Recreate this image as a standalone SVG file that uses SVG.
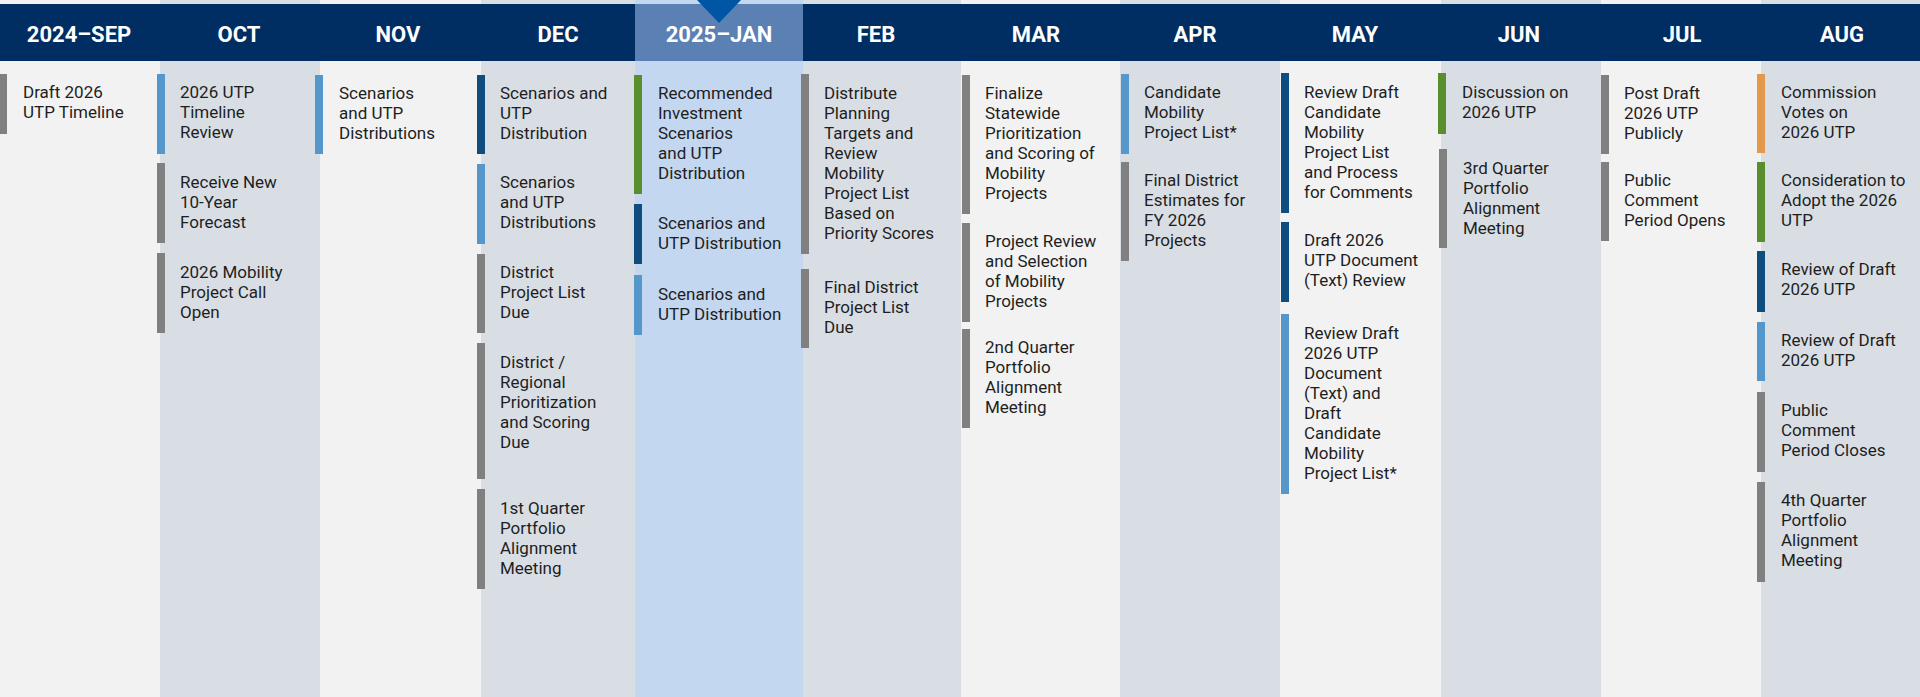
<svg xmlns="http://www.w3.org/2000/svg" width="1920" height="697" viewBox="0 0 1920 697">
<style>
.bgL{fill:#f2f2f2}.bgG{fill:#d9dee5}.bgJ{fill:#c4d7f0}
.hdr{fill:#002d62}.hdrJ{fill:#5a80b4}
.ht{font-family:Roboto,"Liberation Sans",sans-serif;font-weight:700;font-size:22px;fill:#ffffff;text-anchor:middle}
.t{font-family:Roboto,"Liberation Sans",sans-serif;font-size:17px;fill:#1e1e1e}
.gray{fill:#808080}.lb{fill:#5596cb}.db{fill:#0f4d7e}.gr{fill:#5a8d2c}.or{fill:#e3994b}
</style>
<g id="background">
<rect class="bgL" x="0" y="0" width="160" height="697"/>
<rect class="bgG" x="160" y="0" width="160" height="697"/>
<rect class="bgL" x="320" y="0" width="161" height="697"/>
<rect class="bgG" x="481" y="0" width="154" height="697"/>
<rect class="bgJ" x="635" y="0" width="168" height="697"/>
<rect class="bgG" x="803" y="0" width="158" height="697"/>
<rect class="bgL" x="961" y="0" width="159" height="697"/>
<rect class="bgG" x="1120" y="0" width="160" height="697"/>
<rect class="bgL" x="1280" y="0" width="161" height="697"/>
<rect class="bgG" x="1441" y="0" width="160" height="697"/>
<rect class="bgL" x="1601" y="0" width="160" height="697"/>
<rect class="bgG" x="1761" y="0" width="159" height="697"/>
</g>
<g id="header">
<rect class="hdr" x="0" y="4" width="1920" height="57"/>
<rect class="hdrJ" x="635" y="4" width="168" height="57"/>
<polygon points="697,0 741,0 719,23" fill="#0055a5"/>
<text class="ht" x="79" y="42">2024–SEP</text>
<text class="ht" x="239" y="42">OCT</text>
<text class="ht" x="398" y="42">NOV</text>
<text class="ht" x="558" y="42">DEC</text>
<text class="ht" x="719" y="42">2025–JAN</text>
<text class="ht" x="876" y="42">FEB</text>
<text class="ht" x="1036" y="42">MAR</text>
<text class="ht" x="1195" y="42">APR</text>
<text class="ht" x="1355" y="42">MAY</text>
<text class="ht" x="1519" y="42">JUN</text>
<text class="ht" x="1682" y="42">JUL</text>
<text class="ht" x="1842" y="42">AUG</text>
</g>
<g id="sep-1"><rect class="gray" x="0" y="74" width="7" height="60"/><text class="t" x="23" y="98"><tspan x="23">Draft 2026</tspan><tspan x="23" dy="20">UTP Timeline</tspan></text></g>
<g id="oct-1"><rect class="lb" x="157" y="74" width="8" height="80"/><text class="t" y="98"><tspan x="180">2026 UTP</tspan><tspan x="180" dy="20">Timeline</tspan><tspan x="180" dy="20">Review</tspan></text></g>
<g id="oct-2"><rect class="gray" x="157" y="163" width="8" height="80"/><text class="t" y="188"><tspan x="180">Receive New</tspan><tspan x="180" dy="20">10-Year</tspan><tspan x="180" dy="20">Forecast</tspan></text></g>
<g id="oct-3"><rect class="gray" x="157" y="253" width="8" height="80"/><text class="t" y="278"><tspan x="180">2026 Mobility</tspan><tspan x="180" dy="20">Project Call</tspan><tspan x="180" dy="20">Open</tspan></text></g>
<g id="nov-1"><rect class="lb" x="315" y="75" width="8" height="79"/><text class="t" y="99"><tspan x="339">Scenarios</tspan><tspan x="339" dy="20">and UTP</tspan><tspan x="339" dy="20">Distributions</tspan></text></g>
<g id="dec-1"><rect class="db" x="477" y="75" width="8" height="79"/><text class="t" y="99"><tspan x="500">Scenarios and</tspan><tspan x="500" dy="20">UTP</tspan><tspan x="500" dy="20">Distribution</tspan></text></g>
<g id="dec-2"><rect class="lb" x="477" y="164" width="8" height="80"/><text class="t" y="188"><tspan x="500">Scenarios</tspan><tspan x="500" dy="20">and UTP</tspan><tspan x="500" dy="20">Distributions</tspan></text></g>
<g id="dec-3"><rect class="gray" x="477" y="254" width="8" height="79"/><text class="t" y="278"><tspan x="500">District</tspan><tspan x="500" dy="20">Project List</tspan><tspan x="500" dy="20">Due</tspan></text></g>
<g id="dec-4"><rect class="gray" x="477" y="343" width="8" height="136"/><text class="t" y="368"><tspan x="500">District /</tspan><tspan x="500" dy="20">Regional</tspan><tspan x="500" dy="20">Prioritization</tspan><tspan x="500" dy="20">and Scoring</tspan><tspan x="500" dy="20">Due</tspan></text></g>
<g id="dec-5"><rect class="gray" x="477" y="489" width="8" height="100"/><text class="t" y="514"><tspan x="500">1st Quarter</tspan><tspan x="500" dy="20">Portfolio</tspan><tspan x="500" dy="20">Alignment</tspan><tspan x="500" dy="20">Meeting</tspan></text></g>
<g id="jan-1"><rect class="gr" x="634" y="75" width="8" height="119"/><text class="t" y="99"><tspan x="658">Recommended</tspan><tspan x="658" dy="20">Investment</tspan><tspan x="658" dy="20">Scenarios</tspan><tspan x="658" dy="20">and UTP</tspan><tspan x="658" dy="20">Distribution</tspan></text></g>
<g id="jan-2"><rect class="db" x="634" y="204" width="8" height="60"/><text class="t" y="229"><tspan x="658">Scenarios and</tspan><tspan x="658" dy="20">UTP Distribution</tspan></text></g>
<g id="jan-3"><rect class="lb" x="634" y="275" width="8" height="60"/><text class="t" y="300"><tspan x="658">Scenarios and</tspan><tspan x="658" dy="20">UTP Distribution</tspan></text></g>
<g id="feb-1"><rect class="gray" x="801" y="74" width="8" height="180"/><text class="t" y="99"><tspan x="824">Distribute</tspan><tspan x="824" dy="20">Planning</tspan><tspan x="824" dy="20">Targets and</tspan><tspan x="824" dy="20">Review</tspan><tspan x="824" dy="20">Mobility</tspan><tspan x="824" dy="20">Project List</tspan><tspan x="824" dy="20">Based on</tspan><tspan x="824" dy="20">Priority Scores</tspan></text></g>
<g id="feb-2"><rect class="gray" x="801" y="269" width="8" height="79"/><text class="t" y="293"><tspan x="824">Final District</tspan><tspan x="824" dy="20">Project List</tspan><tspan x="824" dy="20">Due</tspan></text></g>
<g id="mar-1"><rect class="gray" x="962" y="75" width="8" height="139"/><text class="t" y="99"><tspan x="985">Finalize</tspan><tspan x="985" dy="20">Statewide</tspan><tspan x="985" dy="20">Prioritization</tspan><tspan x="985" dy="20">and Scoring of</tspan><tspan x="985" dy="20">Mobility</tspan><tspan x="985" dy="20">Projects</tspan></text></g>
<g id="mar-2"><rect class="gray" x="962" y="223" width="8" height="99"/><text class="t" y="247"><tspan x="985">Project Review</tspan><tspan x="985" dy="20">and Selection</tspan><tspan x="985" dy="20">of Mobility</tspan><tspan x="985" dy="20">Projects</tspan></text></g>
<g id="mar-3"><rect class="gray" x="962" y="329" width="8" height="99"/><text class="t" y="353"><tspan x="985">2nd Quarter</tspan><tspan x="985" dy="20">Portfolio</tspan><tspan x="985" dy="20">Alignment</tspan><tspan x="985" dy="20">Meeting</tspan></text></g>
<g id="apr-1"><rect class="lb" x="1121" y="74" width="8" height="80"/><text class="t" y="98"><tspan x="1144">Candidate</tspan><tspan x="1144" dy="20">Mobility</tspan><tspan x="1144" dy="20">Project List*</tspan></text></g>
<g id="apr-2"><rect class="gray" x="1121" y="162" width="8" height="99"/><text class="t" y="186"><tspan x="1144">Final District</tspan><tspan x="1144" dy="20">Estimates for</tspan><tspan x="1144" dy="20">FY 2026</tspan><tspan x="1144" dy="20">Projects</tspan></text></g>
<g id="may-1"><rect class="db" x="1281" y="73" width="8" height="140"/><text class="t" y="98"><tspan x="1304">Review Draft</tspan><tspan x="1304" dy="20">Candidate</tspan><tspan x="1304" dy="20">Mobility</tspan><tspan x="1304" dy="20">Project List</tspan><tspan x="1304" dy="20">and Process</tspan><tspan x="1304" dy="20">for Comments</tspan></text></g>
<g id="may-2"><rect class="db" x="1281" y="222" width="8" height="80"/><text class="t" y="246"><tspan x="1304">Draft 2026</tspan><tspan x="1304" dy="20">UTP Document</tspan><tspan x="1304" dy="20">(Text) Review</tspan></text></g>
<g id="may-3"><rect class="lb" x="1281" y="314" width="8" height="180"/><text class="t" y="339"><tspan x="1304">Review Draft</tspan><tspan x="1304" dy="20">2026 UTP</tspan><tspan x="1304" dy="20">Document</tspan><tspan x="1304" dy="20">(Text) and</tspan><tspan x="1304" dy="20">Draft</tspan><tspan x="1304" dy="20">Candidate</tspan><tspan x="1304" dy="20">Mobility</tspan><tspan x="1304" dy="20">Project List*</tspan></text></g>
<g id="jun-1"><rect class="gr" x="1438" y="73" width="8" height="61"/><text class="t" y="98"><tspan x="1462">Discussion on</tspan><tspan x="1462" dy="20">2026 UTP</tspan></text></g>
<g id="jun-2"><rect class="gray" x="1439" y="149" width="8" height="99"/><text class="t" y="174"><tspan x="1463">3rd Quarter</tspan><tspan x="1463" dy="20">Portfolio</tspan><tspan x="1463" dy="20">Alignment</tspan><tspan x="1463" dy="20">Meeting</tspan></text></g>
<g id="jul-1"><rect class="gray" x="1601" y="75" width="8" height="79"/><text class="t" y="99"><tspan x="1624">Post Draft</tspan><tspan x="1624" dy="20">2026 UTP</tspan><tspan x="1624" dy="20">Publicly</tspan></text></g>
<g id="jul-2"><rect class="gray" x="1601" y="162" width="8" height="79"/><text class="t" y="186"><tspan x="1624">Public</tspan><tspan x="1624" dy="20">Comment</tspan><tspan x="1624" dy="20">Period Opens</tspan></text></g>
<g id="aug-1"><rect class="or" x="1757" y="74" width="8" height="79"/><text class="t" y="98"><tspan x="1781">Commission</tspan><tspan x="1781" dy="20">Votes on</tspan><tspan x="1781" dy="20">2026 UTP</tspan></text></g>
<g id="aug-2"><rect class="gr" x="1757" y="162" width="8" height="80"/><text class="t" y="186"><tspan x="1781">Consideration to</tspan><tspan x="1781" dy="20">Adopt the 2026</tspan><tspan x="1781" dy="20">UTP</tspan></text></g>
<g id="aug-3"><rect class="db" x="1757" y="251" width="8" height="61"/><text class="t" y="275"><tspan x="1781">Review of Draft</tspan><tspan x="1781" dy="20">2026 UTP</tspan></text></g>
<g id="aug-4"><rect class="lb" x="1757" y="322" width="8" height="59"/><text class="t" y="346"><tspan x="1781">Review of Draft</tspan><tspan x="1781" dy="20">2026 UTP</tspan></text></g>
<g id="aug-5"><rect class="gray" x="1757" y="392" width="8" height="80"/><text class="t" y="416"><tspan x="1781">Public</tspan><tspan x="1781" dy="20">Comment</tspan><tspan x="1781" dy="20">Period Closes</tspan></text></g>
<g id="aug-6"><rect class="gray" x="1757" y="482" width="8" height="100"/><text class="t" y="506"><tspan x="1781">4th Quarter</tspan><tspan x="1781" dy="20">Portfolio</tspan><tspan x="1781" dy="20">Alignment</tspan><tspan x="1781" dy="20">Meeting</tspan></text></g>
</svg>
